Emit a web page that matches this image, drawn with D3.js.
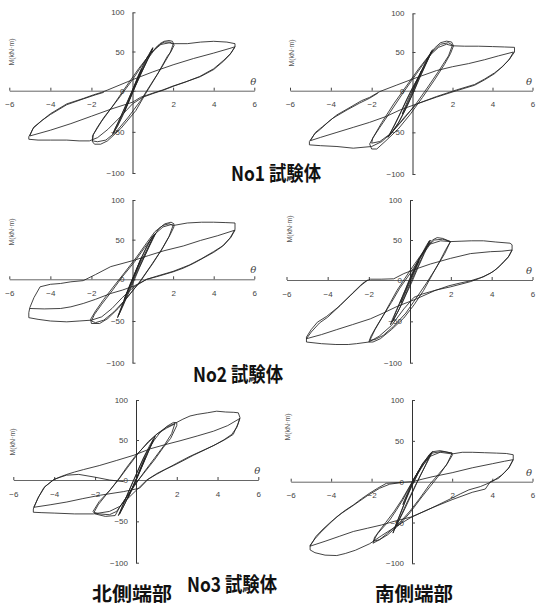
<!DOCTYPE html>
<html>
<meta charset="utf-8">
<head>
    <script src="https://d3js.org/d3.v7.min.js"></script>
    <style>
        body { margin: 0; background: #fff; }
        svg { display: block; }
    </style>
</head>
<body>
    <div id="chart"></div>

<script>
    // axis tick labels
    const xTicks = [-6, -4, -2, 2, 4, 6];
    const yTicks = [-100, -50, 0, 50, 100];

    // hysteresis loops, [θ, M(kN·m)]
    const no1North = [
        [0,0],[0.15,10],[0.3,20],[0.45,28],[0.4,24],[0.2,10],[0,-2],[-0.2,-14],[-0.4,-26],[-0.35,-22],[-0.15,-9],[0.05,4],
        [0.3,20],[0.55,34],[0.8,46],[1.0,55],[0.95,51],[0.75,40],[0.5,26],[0.2,9],[-0.1,-8],[-0.4,-25],[-0.65,-38],[-0.85,-48],[-0.97,-53],[-0.9,-49],[-0.7,-39],[-0.45,-25],[-0.2,-11],[0.1,6],[0.4,24],[0.7,40],[0.9,50],[1.0,54],[0.92,49],[0.7,37],[0.42,22],[0.12,5],[-0.15,-12],[-0.45,-29],[-0.72,-43],[-0.92,-51],[-0.85,-46],[-0.6,-33],[-0.3,-16],[0,1],
        [0.3,17],[0.74,40],[1.1,53],[1.35,60],[1.56,63],[1.8,64],[1.97,63],[2.05,58],[1.9,50],[1.72,44],[1.23,21],[0.66,-3],[0.17,-24],[-0.57,-46],[-1.22,-61],[-1.55,-65],[-1.85,-65],[-1.95,-62],[-1.95,-55],[-1.7,-44],[-1.38,-32],[-0.72,-11],[0,14],[0.74,43],[1.23,57],[1.56,62],[1.85,62],[2.0,59],
        [1.85,48],[1.4,28],[0.9,8],[0.4,-12],[-0.2,-32],[-0.8,-50],[-1.3,-60],[-1.7,-62],[-1.95,-61],[-1.9,-53],[-1.5,-37],[-1.0,-20],[-0.4,2],[0.3,28],[0.9,48],[1.4,59],[1.8,61],[2.05,60],
        [2.7,60],[3.35,62],[4.0,63],[4.65,62],[5.05,60],[5.05,56],
        [4.8,46],[4.5,38],[4.0,27],[3.35,18],[2.7,12],[2.05,6],[1.55,1],[1.06,-3],[0.5,-8],
        [0,-16],[-0.6,-32],[-1.2,-47],[-1.7,-57],[-2.1,-61],[-2.6,-61],[-3.2,-60],[-4,-60],[-4.6,-60],[-5.05,-59],[-5.05,-56],
        [-4.8,-44],[-4.3,-34],[-4.0,-28],[-3.2,-16],[-2.4,-9.5],[-1.9,-5],[-1.5,-2],[-1.2,1],
        [0,14],[1,24],[2,33],[3,41],[4,48],[4.8,54],[5.05,56],
        [4.85,48],[4.5,39],[4.0,28],[3.3,18],[2.6,11],[2.0,6],[1.5,1],[1.0,-3],[0.4,-8],
        [0,-14],[-1,-22],[-2,-31],[-3,-40],[-4,-48],[-5,-55],
        [-4.85,-46],[-4.4,-36],[-4.0,-29],[-3.2,-17],[-2.4,-10],[-1.8,-5],[-1.4,-2]
    ];

    const no1South = [
        [0,0],[0.15,9],[0.35,20],[0.45,26],[0.38,21],[0.15,7],[-0.1,-7],[-0.35,-21],[-0.5,-28],[-0.42,-23],[-0.2,-10],[0.05,3],
        [0.35,20],[0.65,36],[0.9,48],[1.0,53],[0.9,47],[0.65,33],[0.35,16],[0.05,-2],[-0.3,-20],[-0.65,-37],[-0.95,-48],[-1.2,-56],[-1.1,-51],[-0.85,-40],[-0.55,-25],[-0.25,-9],[0.1,8],[0.45,26],[0.75,42],[0.95,51],[0.85,45],[0.6,31],[0.3,14],[0,-4],[-0.35,-23],[-0.7,-39],[-1.0,-50],[-1.15,-54],[-1.0,-47],[-0.7,-32],[-0.35,-14],[0,4],
        [0.4,22],[0.8,42],[1.1,55],[1.4,62],[1.7,64],[1.95,63],[2.05,58],[1.9,48],[1.6,34],[1.1,14],[0.5,-8],[-0.1,-28],[-0.7,-46],[-1.3,-60],[-1.75,-70],[-2.0,-70],[-2.1,-64],[-1.9,-55],[-1.5,-38],[-0.9,-15],[-0.3,6],[0.3,28],[0.9,48],[1.4,60],[1.8,62],[2.0,59],
        [1.8,45],[1.3,25],[0.8,6],[0.2,-15],[-0.5,-36],[-1.1,-52],[-1.6,-61],[-2.0,-63],[-1.95,-57],[-1.6,-44],[-1.1,-26],[-0.5,-4],[0.2,22],[0.8,44],[1.3,56],[1.7,60],[2.0,58],
        [2.6,57.5],[3.3,57.5],[4.0,57],[4.6,56.5],[5.1,56],[5.1,50],
        [4.8,39],[4.4,29],[4.1,22],[3.6,14],[3.1,7],[2.2,0],[1.2,-7.7],[0.2,-16],
        [-0.4,-32],[-1.0,-50],[-1.5,-61],[-2.0,-67],[-2.9,-69],[-3.7,-67],[-4.5,-66],[-5.05,-65],[-5.05,-61],
        [-4.8,-52],[-4.5,-46],[-4.1,-37],[-3.7,-29],[-3.06,-20],[-2.5,-12],[-2.1,-8],[-1.6,-1],
        [-0.8,7],[0,15],[1.2,26],[2.0,31],[2.8,35],[3.6,40],[4.3,45],[5.05,50],
        [4.85,41],[4.5,31],[4.1,23],[3.6,15],[3.1,8],[2.2,1],[1.2,-7],[0.2,-16],
        [-0.6,-23],[-1.3,-31],[-2.1,-38],[-2.9,-44],[-3.7,-50],[-4.5,-56],[-5.0,-60],
        [-4.75,-50],[-4.4,-43],[-3.9,-33],[-3.2,-23],[-2.6,-15],[-2.1,-9],[-1.7,-3]
    ];

    const no2North = [
        [0,0],[0.15,10],[0.35,22],[0.45,28],[0.38,23],[0.15,8],[-0.1,-7],[-0.3,-18],[-0.4,-24],[-0.33,-19],[-0.12,-6],[0.05,4],
        [0.35,22],[0.65,38],[0.95,52],[1.14,58],[1.05,53],[0.8,40],[0.5,24],[0.2,8],[-0.1,-9],[-0.4,-27],[-0.6,-39],[-0.73,-46],[-0.63,-40],[-0.4,-25],[-0.15,-9],[0.15,9],[0.45,28],[0.75,44],[1.0,55],[1.1,57],[0.95,49],[0.65,32],[0.35,15],[0.05,-3],[-0.25,-20],[-0.5,-34],[-0.7,-44],[-0.6,-37],[-0.35,-21],[-0.05,-3],
        [0.3,16],[0.7,37],[1.0,52],[1.3,64],[1.6,70],[1.9,72],[2.04,70],[2.04,66],[1.85,56],[1.5,40],[1.0,20],[0.4,-2],[-0.2,-20],[-0.7,-35],[-1.2,-47],[-1.6,-53],[-2.0,-53],[-2.04,-48],[-1.8,-38],[-1.4,-24],[-0.9,-8],[-0.4,8],[0.2,28],[0.7,46],[1.1,60],[1.5,68],[1.8,70],[2.0,68],
        [1.8,54],[1.4,36],[0.9,17],[0.3,-5],[-0.3,-23],[-0.9,-39],[-1.4,-49],[-1.8,-52],[-2.0,-50],[-1.85,-42],[-1.5,-30],[-1.0,-14],[-0.5,3],[0.1,22],[0.6,40],[1.1,57],[1.5,66],[1.9,69],[2.04,68],
        [2.7,71],[3.4,72],[4.0,72],[4.6,71.5],[5.05,71],[5.05,63],
        [4.8,52],[4.4,41],[4.0,34],[3.5,27],[3.0,20],[2.5,14],[2.0,9.4],[1.2,3.3],[0.7,0],[0.08,-9],
        [-0.5,-22],[-1.0,-35],[-1.5,-45],[-2.0,-49],[-2.6,-50],[-3.2,-51],[-4.0,-50],[-4.6,-48],[-5.05,-46],[-5.05,-40],
        [-5.0,-34],[-4.8,-22],[-4.5,-9],[-4.0,-6],[-3.5,-5],[-3.0,-3],[-2.4,-1.6],
        [-1.8,6],[-1.06,16],[0.08,24],[0.8,30],[1.55,36],[2.5,42],[3.35,49],[4.2,55],[5.05,62],
        [4.85,53],[4.5,43],[4.0,35],[3.4,26],[2.8,18],[2.0,10],[1.2,4],[0.7,0],[0.08,-8],
        [-0.5,-13],[-1.06,-17],[-1.8,-24],[-2.4,-29],[-3.0,-33],[-3.5,-35],[-4.3,-35.5],[-5.0,-35]
    ];

    const no2South = [
        [0,0],[0.15,8],[0.35,19],[0.45,24],[0.38,20],[0.15,6],[-0.1,-8],[-0.3,-20],[-0.45,-28],[-0.38,-23],[-0.15,-9],[0.05,3],
        [0.3,17],[0.6,32],[0.85,44],[1.0,50],[0.92,45],[0.7,33],[0.4,16],[0.1,-2],[-0.2,-18],[-0.5,-34],[-0.75,-46],[-0.95,-54],[-0.88,-49],[-0.65,-36],[-0.35,-19],[-0.05,-2],[0.25,15],[0.55,31],[0.8,43],[0.95,49],[0.85,43],[0.6,29],[0.3,12],[0,-5],[-0.3,-23],[-0.6,-39],[-0.85,-50],[-0.75,-43],[-0.5,-28],[-0.2,-10],
        [0.02,4],[0.4,25],[0.84,42],[1.1,50],[1.33,53],[1.6,52],[1.98,48],[1.75,38],[1.49,25],[1.1,7],[0.67,-12.5],[0.2,-30],[-0.3,-46],[-0.9,-60],[-1.44,-71],[-1.8,-75],[-2.0,-75],[-1.9,-68],[-1.6,-55],[-1.28,-42],[-0.95,-27],[-0.63,-12.5],[0.02,12.5],[0.5,30],[0.84,42],[1.2,50],[1.6,51],[1.98,48],
        [1.7,33],[1.3,16],[0.8,-4],[0.3,-22],[-0.2,-40],[-0.8,-56],[-1.3,-67],[-1.7,-72],[-1.95,-73],[-1.7,-60],[-1.3,-43],[-0.9,-27],[-0.5,-10],[0,8],[0.5,28],[1.0,45],[1.5,49],[1.98,48],
        [2.5,48.5],[3.0,49],[3.6,49],[4.2,47.5],[4.9,46],[5.0,44],[5.0,37.5],
        [4.85,30],[4.59,23],[4.3,15],[3.94,8.4],[3.4,2],[2.96,-2],[2.5,-5],[1.98,-8.3],[1.3,-12],[0.6,-17],[0.19,-21],
        [-0.3,-35],[-0.9,-55],[-1.5,-68],[-2.0,-75],[-2.6,-77],[-3.0,-78],[-3.6,-78],[-4.3,-77],[-5.03,-75],[-5.03,-69],
        [-4.8,-60],[-4.5,-51],[-4.05,-44],[-3.5,-33],[-2.9,-19],[-2.4,-7],[-2.1,-1],[-1.93,1],[-1.4,1],[-0.79,1.5],
        [-0.3,8],[0.2,13],[1.0,20],[1.98,27],[2.96,33],[3.94,35.4],[4.5,36],[5.0,37.5],
        [4.8,28],[4.5,20],[4.1,11],[3.6,4],[2.96,-1],[2.4,-4],[1.9,-7],[1.2,-13],[0.2,-24],[-0.63,-32],
        [-1.3,-40],[-1.93,-47],[-2.8,-54],[-3.56,-60],[-4.3,-66],[-5.03,-71],
        [-4.8,-63],[-4.4,-52],[-4.0,-45],[-3.4,-31],[-2.8,-16],[-2.3,-4],[-2.05,0]
    ];

    const no3North = [
        [0,0],[0.15,10],[0.35,22],[0.45,28],[0.38,23],[0.15,8],[-0.1,-7],[-0.3,-17],[-0.4,-22],[-0.33,-18],[-0.12,-6],[0.05,4],
        [0.3,20],[0.6,37],[0.8,48],[0.94,55],[0.85,49],[0.6,35],[0.3,17],[0,0],[-0.3,-16],[-0.55,-29],[-0.75,-38],[-0.86,-43],[-0.78,-38],[-0.55,-25],[-0.25,-8],[0.05,9],[0.35,27],[0.65,42],[0.85,51],[0.75,44],[0.5,29],[0.2,12],[-0.1,-5],[-0.4,-21],[-0.65,-34],[-0.8,-41],[-0.7,-34],[-0.45,-19],[-0.15,-2],
        [0.2,18],[0.53,35],[0.9,50],[1.2,60],[1.51,67],[1.84,72],[2.0,71.6],[2.0,68],[1.7,52],[1.35,41],[0.9,25],[0.37,8],[-0.05,-5],[-0.45,-20],[-0.8,-33],[-1.02,-43],[-1.5,-44],[-2.0,-41],[-2.1,-38],[-1.8,-26],[-1.26,-12],[-0.8,3],[-0.45,16],[0.0,31],[0.53,45],[1.0,57],[1.51,65],[1.9,70],
        [1.75,58],[1.4,44],[0.9,27],[0.4,10],[-0.1,-8],[-0.55,-24],[-0.95,-38],[-1.3,-42],[-1.8,-41],[-2.05,-39],[-1.85,-30],[-1.4,-16],[-0.9,-1],[-0.4,16],[0.1,33],[0.6,48],[1.1,59],[1.5,66],[2.0,72],
        [2.3,76],[2.65,80],[3.0,82],[3.5,84],[3.96,86],[4.4,85],[4.8,84.6],[5.02,84],[5.1,78],
        [5.0,70],[4.77,57],[4.4,51],[3.96,45],[3.4,38],[2.82,31],[2.3,24],[1.84,18],[1.4,13],[1.02,8],[0.53,0],[0.2,-8],
        [-0.3,-20],[-0.8,-32],[-1.3,-38],[-2.08,-41],[-3.0,-41],[-4.0,-40],[-4.6,-39.5],[-5.02,-39],[-5.02,-35],
        [-4.8,-22],[-4.5,-9],[-4.04,0],[-3.7,4],[-3.38,7],[-3.0,10],[-2.57,13],[-1.8,18],[-0.94,24.5],[-0.1,31],[0.7,39],[1.4,44],[2.16,49],[3.0,55],[3.8,61],[4.5,68],[5.1,77],
        [4.95,66],[4.7,57],[4.3,50],[3.8,43],[3.2,36],[2.6,29],[2.0,21],[1.5,14],[1.0,7],[0.6,1],[0.17,-10],
        [-0.6,-14],[-1.75,-18.4],[-2.6,-22.5],[-3.38,-26.6],[-4.2,-30],[-5.0,-33],
        [-4.75,-20],[-4.45,-8],[-4.0,1],[-3.4,6],[-2.8,7],[-2.0,3.5],[-1.3,0],[-0.6,-2]
    ];

    const no3South = [
        [0,0],[0.15,6],[0.35,14],[0.45,18],[0.38,14],[0.15,3],[-0.1,-9],[-0.3,-20],[-0.45,-28],[-0.38,-23],[-0.15,-10],[0.05,1],
        [0.3,12],[0.6,24],[0.85,33],[1.02,37],[0.95,33],[0.7,21],[0.4,7],[0.1,-8],[-0.2,-23],[-0.5,-39],[-0.75,-52],[-0.94,-63],[-0.85,-56],[-0.6,-41],[-0.3,-22],[0,-5],[0.3,10],[0.6,22],[0.85,31],[0.95,35],[0.82,28],[0.55,14],[0.25,-1],[-0.05,-17],[-0.35,-33],[-0.65,-48],[-0.88,-59],[-0.75,-50],[-0.45,-31],[-0.15,-12],
        [0.1,3],[0.53,22.5],[1.02,36.7],[1.4,38],[1.8,36],[2.0,35],[2.0,32],[1.7,20],[1.35,10],[0.86,-4],[0.4,-20],[-0.1,-36],[-0.6,-50],[-1.2,-63],[-1.6,-71],[-1.93,-75.4],[-1.85,-68],[-1.5,-58],[-1.1,-47],[-0.75,-34],[-0.45,-22],[0,-1],[0.53,22],[1.0,35],[1.5,37],[2.0,35],
        [1.75,22],[1.35,8],[0.9,-6],[0.45,-20],[-0.1,-38],[-0.6,-52],[-1.2,-65],[-1.6,-71],[-1.9,-73],[-1.7,-63],[-1.3,-50],[-0.9,-37],[-0.5,-22],[-0.1,-5],[0.4,16],[0.9,31],[1.4,36],[2.0,34],
        [2.5,36],[3.0,36],[3.6,35.5],[4.2,35],[4.7,34.5],[5.04,33],[5.04,27],
        [4.8,16],[4.46,8],[4.1,2],[3.89,-1],[3.4,-6],[2.83,-10],[2.4,-15],[2.0,-20],
        [1.0,-32],[0,-43],[-0.8,-55],[-1.5,-66],[-2.09,-76],[-2.8,-84],[-3.3,-88],[-3.72,-90.5],[-4.3,-90],[-4.8,-87],[-5.04,-83.6],[-5.04,-78],
        [-4.8,-70],[-4.55,-63],[-4.1,-52],[-3.72,-43],[-3.3,-35],[-2.9,-28.5],[-2.5,-21],[-2.09,-14],[-1.7,-8],[-1.27,-2],[-0.6,-1],[0,0],
        [0.5,3],[1.0,6],[2.0,11],[3.0,17],[4.0,22],[4.6,25],[5.04,27],
        [4.85,18],[4.6,11],[4.3,4],[3.9,0],[3.65,-9],[3.0,-13],[2.0,-22],[1.0,-32],[0,-43],
        [-0.8,-48],[-1.5,-53],[-2.2,-57],[-2.9,-61],[-3.6,-67],[-4.3,-73],[-5.04,-79],
        [-4.75,-67],[-4.4,-58],[-4.0,-49],[-3.5,-39],[-2.9,-29],[-2.2,-17],[-1.6,-8],[-1.1,-3],[-0.5,-1]
    ];

    const specimenTitles = ["No1 試験体", "No2 試験体", "No3 試験体"];
    const sideNames = ["北側端部", "南側端部"];
    const yLabel = "M(kN·m)";
    const xLabel = "θ";

    // where each scanned panel sits on the page
    const layout = [
        { data: no1North, xr: [9.3, 132.5, 254.3], yr: [173, 90.7, 12.3], lx: 12, ly: 52 },
        { data: no1South, xr: [290, 412.5, 532.5], yr: [174, 90.7, 13.3], lx: 292, ly: 53 },
        { data: no2North, xr: [9.3, 132.5, 254.3], yr: [362.7, 279.3, 200], lx: 12, ly: 232 },
        { data: no2South, xr: [286.5, 410, 532.5], yr: [362.7, 280, 200], lx: 290, ly: 229 },
        { data: no3North, xr: [13.3, 136, 258.3], yr: [562.7, 480, 400], lx: 13, ly: 442 },
        { data: no3South, xr: [290.7, 412, 532.5], yr: [563.3, 481.7, 400], lx: 288, ly: 427 }
    ];

    const svg = d3.select("#chart")
        .append("svg")
            .attr("width", 536)
            .attr("height", 607);

    layout.forEach(p => {
        const x = d3.scaleLinear().domain([-6, 0, 6]).range(p.xr);
        const y = d3.scaleLinear().domain([-100, 0, 100]).range(p.yr);
        const g = svg.append("g");

        // x axis through M = 0
        const xa = g.append("g")
            .attr("transform", `translate(0, ${y(0)})`)
            .call(d3.axisBottom(x).tickValues(xTicks).tickSize(-3).tickSizeOuter(0).tickPadding(11));
        xa.select(".domain").attr("stroke", "#666");

        // y axis through θ = 0
        const ya = g.append("g")
            .attr("transform", `translate(${x(0)}, 0)`)
            .call(d3.axisLeft(y).tickValues(yTicks).tickSize(-3).tickSizeOuter(0).tickPadding(8));
        ya.select(".domain").attr("stroke", "#333");

        g.selectAll(".tick line").attr("stroke", "#444");
        g.selectAll(".tick text")
            .attr("fill", "#444")
            .style("font", "8px 'Liberation Sans', sans-serif");

        g.append("text")
            .attr("transform", `translate(${p.lx}, ${p.ly}) rotate(-90)`)
            .attr("text-anchor", "middle")
            .attr("dominant-baseline", "middle")
            .attr("fill", "#555")
            .style("font", "7px 'Liberation Sans', sans-serif")
            .text(yLabel);

        g.append("text")
            .attr("x", Math.min(x(6) - 1, 529))
            .attr("y", y(0) - 6)
            .attr("text-anchor", "middle")
            .attr("fill", "#444")
            .style("font", "italic 10px 'DejaVu Serif', serif")
            .text(xLabel);

        g.append("path")
            .datum(p.data)
            .attr("fill", "none")
            .attr("stroke", "#222")
            .attr("stroke-width", 0.85)
            .attr("stroke-linejoin", "round")
            .attr("d", d3.line().x(d => x(d[0])).y(d => y(d[1])));
    });

    // specimen titles
    const titlePos = [[231, 181], [193, 382], [187, 592]];
    svg.selectAll(".spec")
        .data(specimenTitles)
        .join("text")
            .attr("x", (d, i) => titlePos[i][0])
            .attr("y", (d, i) => titlePos[i][1])
            .attr("textLength", 90)
            .attr("lengthAdjust", "spacingAndGlyphs")
            .attr("fill", "#111")
            .style("font", "bold 20px 'Noto Sans CJK JP', sans-serif")
            .text(d => d);

    // end labels under each column
    const sidePos = [[92, 601, 80], [375, 601, 78]];
    svg.selectAll(".side")
        .data(sideNames)
        .join("text")
            .attr("x", (d, i) => sidePos[i][0])
            .attr("y", (d, i) => sidePos[i][1])
            .attr("textLength", (d, i) => sidePos[i][2])
            .attr("lengthAdjust", "spacingAndGlyphs")
            .attr("fill", "#111")
            .style("font", "bold 19px 'Noto Sans CJK JP', sans-serif")
            .text(d => d);
</script>
</body>
</html>
